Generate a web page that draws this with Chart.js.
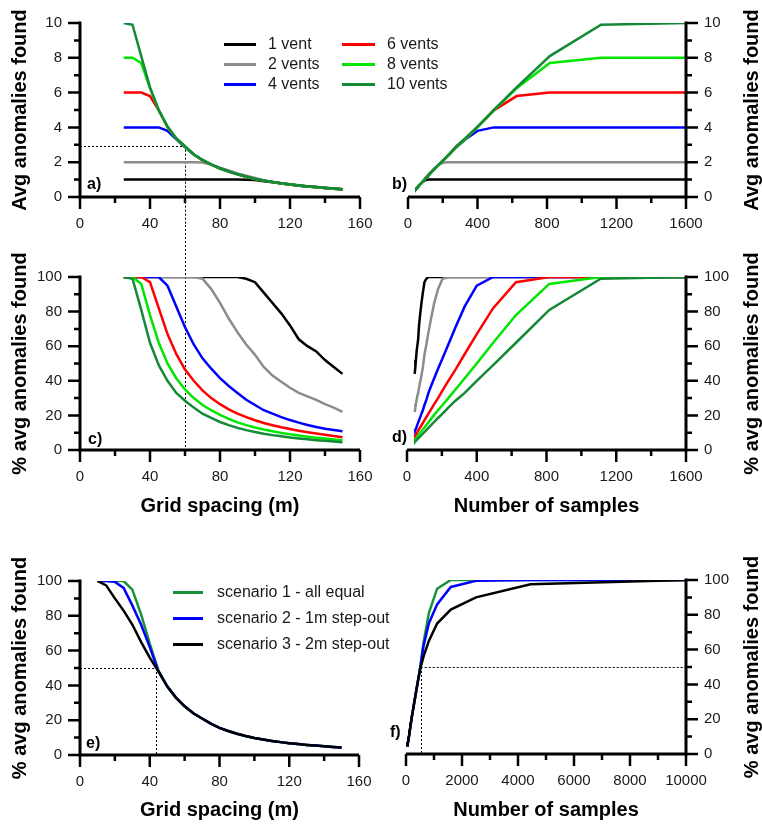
<!DOCTYPE html>
<html>
<head>
<meta charset="utf-8">
<script src="https://cdn.jsdelivr.net/npm/chart.js@4.4.1/dist/chart.umd.min.js"></script>
<style>
  body { margin: 0; background: #fff; }
  #page { position: relative; width: 762px; height: 824px; overflow: hidden; font-family: "Liberation Sans", Arial, sans-serif; }
  canvas { position: absolute; }
  .item { position: absolute; height: 20px; line-height: 20px; font-size: 16px; color: #1a1a1a; white-space: nowrap; }
  .swatch { position: absolute; height: 3px; }
</style>
</head>
<body>
<div id="page">
  <canvas id="chartA"></canvas>
  <canvas id="chartB"></canvas>
  <canvas id="chartC"></canvas>
  <canvas id="chartD"></canvas>
  <canvas id="chartE"></canvas>
  <canvas id="chartF"></canvas>
  <div id="legendVents"></div>
  <div id="legendScen"></div>
</div>
<script>
// Grid spacing (m) and matching number of samples, panels a-d
const spacing = [25, 30, 35, 40, 45, 50, 55, 60, 65, 70, 75, 80, 85, 90, 95, 100, 105, 110, 115, 120, 125, 130, 135, 140, 145, 150];
const samples = [1600, 1111, 816, 625, 494, 400, 331, 278, 237, 204, 178, 156, 138, 123, 111, 100, 91, 83, 76, 69, 64, 59, 55, 51, 48, 44];

const ventLabels = ['1 vent', '2 vents', '4 vents', '6 vents', '8 vents', '10 vents'];

// Avg anomalies found (panels a, b)
const avg1 = [1, 1, 1, 1, 1, 1, 1, 1, 1, 1, 1, 1, 1, 1, 0.99, 0.97, 0.91, 0.85, 0.79, 0.72, 0.65, 0.60, 0.57, 0.52, 0.48, 0.44];
const avg2 = [2, 2, 2, 2, 2, 2, 2, 2, 2, 1.98, 1.86, 1.68, 1.52, 1.36, 1.22, 1.10, 0.97, 0.87, 0.79, 0.72, 0.66, 0.61, 0.57, 0.53, 0.49, 0.44];
const avg4 = [4, 4, 4, 4, 4, 3.8, 3.32, 2.86, 2.44, 2.12, 1.86, 1.64, 1.46, 1.30, 1.16, 1.04, 0.94, 0.86, 0.78, 0.72, 0.66, 0.61, 0.56, 0.52, 0.48, 0.44];
const avg6 = [6, 6, 6, 5.8, 4.98, 4.02, 3.35, 2.88, 2.44, 2.12, 1.86, 1.64, 1.46, 1.30, 1.16, 1.04, 0.94, 0.86, 0.78, 0.72, 0.66, 0.61, 0.56, 0.52, 0.48, 0.44];
const avg8 = [8, 8, 7.7, 6.25, 4.98, 4.02, 3.35, 2.88, 2.44, 2.12, 1.86, 1.64, 1.46, 1.30, 1.16, 1.04, 0.94, 0.86, 0.78, 0.72, 0.66, 0.61, 0.56, 0.52, 0.48, 0.44];
const avg10 = [10, 9.9, 8.1, 6.3, 5.0, 4.05, 3.38, 2.92, 2.46, 2.13, 1.87, 1.65, 1.47, 1.31, 1.17, 1.05, 0.95, 0.87, 0.79, 0.73, 0.67, 0.62, 0.57, 0.53, 0.49, 0.45];

// % avg anomalies found (panels c, d)
const pct1 = [100, 100, 100, 100, 100, 100, 100, 100, 100, 100, 100, 100, 100, 100, 99, 97, 91, 85, 79, 72, 64, 60, 57, 52, 48, 44];
const pct2 = [100, 100, 100, 100, 100, 100, 100, 100, 100, 99, 93, 85, 76, 68, 61, 55, 48, 43, 39.5, 36, 33, 31, 29, 26.5, 24.5, 22];
const pct4 = [100, 100, 100, 100, 100, 95, 83, 71, 61, 53, 47, 41.5, 37, 33, 29, 26, 23, 21, 19, 17.3, 15.8, 14.5, 13.3, 12.3, 11.5, 10.8];
const pct6 = [100, 100, 100, 97, 82, 67, 55.5, 46.5, 40, 34.5, 30, 26.5, 23.5, 21, 19, 17.2, 15.6, 14.3, 13.1, 12.1, 11.1, 10.3, 9.5, 8.8, 8.1, 7.4];
const pct8 = [100, 100, 96, 78, 62, 50, 41.5, 35, 30, 26, 23, 20.3, 18, 16, 14.4, 13, 11.8, 10.8, 9.9, 9.1, 8.4, 7.7, 7.1, 6.6, 6.1, 5.6];
const pct10 = [100, 99, 81, 62, 49, 40, 33, 28.5, 24.5, 21, 18.5, 16.2, 14.4, 12.8, 11.5, 10.4, 9.4, 8.6, 7.9, 7.2, 6.7, 6.2, 5.7, 5.3, 4.9, 4.5];

// Step-out scenarios (panels e, f)
const scenSpacing = [10, 15, 20, 25, 30, 35, 40, 45, 50, 55, 60, 65, 70, 75, 80, 85, 90, 95, 100, 105, 110, 115, 120, 125, 130, 135, 140, 145, 150];
const scenSamples = [10000, 4444, 2500, 1600, 1111, 816, 625, 494, 400, 331, 278, 237, 204, 178, 156, 138, 123, 111, 100, 91, 83, 76, 69, 64, 59, 55, 51, 48, 44];
const scenLabels = ['scenario 1 - all equal', 'scenario 2 - 1m step-out', 'scenario 3 - 2m step-out'];
const scen1 = [100, 100, 100, 100, 95, 81, 64, 48.5, 39.5, 33, 28, 24, 21, 18, 15.6, 13.8, 12.2, 10.9, 9.8, 8.9, 8.1, 7.4, 6.8, 6.3, 5.8, 5.4, 5.0, 4.6, 4.3];
const scen2 = [100, 100, 99.5, 96, 86, 75, 62, 48, 39.5, 33, 28, 24, 21, 18, 15.6, 13.8, 12.2, 10.9, 9.8, 8.9, 8.1, 7.4, 6.8, 6.3, 5.8, 5.4, 5.0, 4.6, 4.3];
const scen3 = [100, 97.5, 90, 83, 75, 65, 56, 48, 39.5, 33, 28, 24, 21, 18, 15.6, 13.8, 12.2, 10.9, 9.8, 8.9, 8.1, 7.4, 6.8, 6.3, 5.8, 5.4, 5.0, 4.6, 4.3];

// dotted reference lines
const refSpacingA = 60, refAvgA = 2.95;
const refSpacingE = 43.5, refPct = 50, refSamplesF = 525;

const ventColors = ['#000000', '#8c8c8c', '#0000ff', '#ff0000', '#00e600', '#138a36'];
const scenColors = ['#16913a', '#0000ff', '#000000'];
const FONT = '"Liberation Sans", Arial, sans-serif';

function points(xs, ys) {
    return xs.map((x, i) => ({ x: x, y: ys[i] }));
}

function lineSets(xs, series, labels, colors) {
    return series.map((ys, i) => ({
        label: labels[i],
        data: points(xs, ys),
        borderColor: colors[i],
        borderWidth: 2.5,
        pointRadius: 0,
        tension: 0,
        order: series.length - 1 - i
    }));
}

// draws the thick axes with long/short ticks, dotted guides, side title and panel tag
const paperAxes = {
    id: 'paperAxes',
    beforeDatasetsDraw(chart, args, opts) {
        const ctx = chart.ctx;
        const xs = chart.scales.x, ys = chart.scales.y;
        ctx.save();
        ctx.strokeStyle = '#000';
        ctx.lineWidth = 1;
        ctx.setLineDash([2, 2]);
        (opts.refs || []).forEach(r => {
            ctx.beginPath();
            if (r.kind === 'h') {
                const py = Math.round(ys.getPixelForValue(r.y)) + 0.5;
                ctx.moveTo(xs.getPixelForValue(r.x0), py);
                ctx.lineTo(xs.getPixelForValue(r.x1), py);
            } else {
                const px = Math.round(xs.getPixelForValue(r.x)) + 0.5;
                const y0 = r.y0 === undefined ? r.fromPx : ys.getPixelForValue(r.y0);
                const y1 = r.y1 === undefined ? r.toPx : ys.getPixelForValue(r.y1);
                ctx.moveTo(px, y0);
                ctx.lineTo(px, y1);
            }
            ctx.stroke();
        });
        ctx.restore();
    },
    afterDraw(chart, args, opts) {
        const ctx = chart.ctx;
        const a = chart.chartArea;
        const xs = chart.scales.x, ys = chart.scales.y;
        const right = ys.options.position === 'right';
        const ax = right ? a.right : a.left;
        const dir = right ? 1 : -1;
        ctx.save();
        ctx.strokeStyle = '#000';
        ctx.setLineDash([]);
        ctx.lineWidth = 3;
        ctx.beginPath();
        ctx.moveTo(a.left - (right ? 0 : 1.5), a.bottom);
        ctx.lineTo(a.right + (right ? 1.5 : 0), a.bottom);
        ctx.moveTo(ax, a.top - 1.5);
        ctx.lineTo(ax, a.bottom + 1.5);
        ctx.stroke();

        ctx.lineWidth = 2.5;
        ctx.beginPath();
        const xt = xs.ticks.map(t => t.value);
        xt.forEach((v, i) => {
            const px = xs.getPixelForValue(v);
            ctx.moveTo(px, a.bottom);
            ctx.lineTo(px, a.bottom + 12);
            if (i < xt.length - 1) {
                const pm = xs.getPixelForValue((v + xt[i + 1]) / 2);
                ctx.moveTo(pm, a.bottom);
                ctx.lineTo(pm, a.bottom + 6);
            }
        });
        const yt = ys.ticks.map(t => t.value);
        yt.forEach((v, i) => {
            const py = ys.getPixelForValue(v);
            ctx.moveTo(ax, py);
            ctx.lineTo(ax + dir * 12, py);
            if (i < yt.length - 1) {
                const pm = ys.getPixelForValue((v + yt[i + 1]) / 2);
                ctx.moveTo(ax, pm);
                ctx.lineTo(ax + dir * 6, pm);
            }
        });
        ctx.stroke();

        ctx.fillStyle = '#000';
        if (opts.sideTitle) {
            ctx.save();
            ctx.translate(ys.right - 10, (a.top + a.bottom) / 2);
            ctx.rotate(-Math.PI / 2);
            ctx.font = 'bold 20px ' + FONT;
            ctx.textAlign = 'center';
            ctx.textBaseline = 'middle';
            ctx.fillText(opts.sideTitle, 0, 0);
            ctx.restore();
        }
        if (opts.tag) {
            ctx.font = 'bold 16px ' + FONT;
            ctx.textAlign = 'left';
            ctx.textBaseline = 'middle';
            ctx.fillText(opts.tag[0], a.left + opts.tag[1], a.bottom + opts.tag[2]);
        }
        ctx.restore();
    }
};

function makePanel(id, p) {
    const canvas = document.getElementById(id);
    const [bx, by, bw, bh] = p.box;
    const [l, t, r, b] = p.area;
    canvas.width = bw;
    canvas.height = bh;
    canvas.style.left = bx + 'px';
    canvas.style.top = by + 'px';

    const yW = p.right ? 76 : 72;
    const xH = p.xTitle ? p.titleY - b + 12 : 38;
    const padding = {
        left: p.right ? l - bx : l - bx - yW,
        right: p.right ? bx + bw - r - yW : bx + bw - r,
        top: t - by,
        bottom: by + bh - b - xH
    };
    const tickFont = { family: FONT, size: 15 };
    const titleFont = { family: FONT, size: 20, weight: 'bold' };
    const plain = value => String(value);

    return new Chart(canvas, {
        type: 'line',
        data: { datasets: p.datasets },
        options: {
            responsive: false,
            animation: false,
            devicePixelRatio: 1,
            layout: { padding: padding },
            plugins: {
                legend: { display: false },
                tooltip: { enabled: false },
                paperAxes: { refs: p.refs, sideTitle: p.right ? p.yTitle : null, tag: p.tag }
            },
            scales: {
                x: {
                    type: 'linear', min: 0, max: p.xMax,
                    grid: { display: true, drawOnChartArea: false, drawTicks: true, tickLength: 12, color: 'rgba(0,0,0,0)' },
                    border: { display: false },
                    ticks: { stepSize: p.xStep, autoSkip: false, maxRotation: 0, padding: 6, color: '#1a1a1a', font: tickFont, callback: plain },
                    title: { display: !!p.xTitle, text: p.xTitle || '', padding: 0, color: '#000', font: titleFont },
                    afterFit: s => { s.height = xH; }
                },
                y: {
                    type: 'linear', min: 0, max: p.yMax,
                    position: p.right ? 'right' : 'left',
                    grid: { display: true, drawOnChartArea: false, drawTicks: true, tickLength: 12, color: 'rgba(0,0,0,0)' },
                    border: { display: false },
                    ticks: { stepSize: p.yStep, autoSkip: false, padding: 6, color: '#1a1a1a', font: tickFont, callback: plain },
                    title: { display: !p.right, text: p.yTitle, padding: 0, color: '#000', font: titleFont },
                    afterFit: s => { s.width = yW; }
                }
            }
        },
        plugins: [paperAxes]
    });
}

const avgSeries = [avg1, avg2, avg4, avg6, avg8, avg10];
const pctSeries = [pct1, pct2, pct4, pct6, pct8, pct10];
const scenSeries = [scen1, scen2, scen3];

makePanel('chartA', {
    box: [0, 0, 380, 240], area: [80, 23, 360, 197],
    xMax: 160, xStep: 40, yMax: 10, yStep: 2,
    yTitle: 'Avg anomalies found', tag: ['a)', 7, -12],
    datasets: lineSets(spacing, avgSeries, ventLabels, ventColors),
    refs: [
        { kind: 'h', y: refAvgA, x0: 0, x1: refSpacingA },
        { kind: 'v', x: refSpacingA, y0: refAvgA, toPx: 225 }
    ]
});
makePanel('chartB', {
    box: [380, 0, 382, 240], area: [408, 23, 686, 197], right: true,
    xMax: 1600, xStep: 400, yMax: 10, yStep: 2,
    yTitle: 'Avg anomalies found', tag: ['b)', -16, -12],
    datasets: lineSets(samples, avgSeries, ventLabels, ventColors)
});
makePanel('chartC', {
    box: [0, 225, 380, 300], area: [80, 277, 360, 450],
    xMax: 160, xStep: 40, yMax: 100, yStep: 20,
    xTitle: 'Grid spacing (m)', titleY: 506,
    yTitle: '% avg anomalies found', tag: ['c)', 8, -10],
    datasets: lineSets(spacing, pctSeries, ventLabels, ventColors),
    refs: [{ kind: 'v', x: refSpacingA, fromPx: 0, y1: 0 }]
});
makePanel('chartD', {
    box: [380, 225, 382, 300], area: [407, 277, 686, 450], right: true,
    xMax: 1600, xStep: 400, yMax: 100, yStep: 20,
    xTitle: 'Number of samples', titleY: 506,
    yTitle: '% avg anomalies found', tag: ['d)', -15, -12.5],
    datasets: lineSets(samples, pctSeries, ventLabels, ventColors)
});
makePanel('chartE', {
    box: [0, 525, 380, 299], area: [80, 581, 359, 755],
    xMax: 160, xStep: 40, yMax: 100, yStep: 20,
    xTitle: 'Grid spacing (m)', titleY: 810,
    yTitle: '% avg anomalies found', tag: ['e)', 6, -11],
    datasets: lineSets(scenSpacing, scenSeries, scenLabels, scenColors),
    refs: [
        { kind: 'h', y: refPct, x0: 0, x1: refSpacingE },
        { kind: 'v', x: refSpacingE, y0: refPct, y1: 0 }
    ]
});
makePanel('chartF', {
    box: [380, 525, 382, 299], area: [406, 580, 686, 754], right: true,
    xMax: 10000, xStep: 2000, yMax: 100, yStep: 20,
    xTitle: 'Number of samples', titleY: 810,
    yTitle: '% avg anomalies found', tag: ['f)', -16, -21],
    datasets: lineSets(scenSamples, scenSeries, scenLabels, scenColors),
    refs: [
        { kind: 'h', y: refPct, x0: refSamplesF, x1: 10000 },
        { kind: 'v', x: refSamplesF, y0: refPct, y1: 0 }
    ]
});

// legends as real text
function buildLegend(hostId, labels, colors, place) {
    const host = document.getElementById(hostId);
    labels.forEach((label, i) => {
        const pos = place(i);
        const item = document.createElement('div');
        item.className = 'item';
        item.style.left = pos.lineX + 'px';
        item.style.top = (pos.cy - 10) + 'px';
        item.style.paddingLeft = (pos.textX - pos.lineX) + 'px';
        item.textContent = label;
        const sw = document.createElement('span');
        sw.className = 'swatch';
        sw.style.left = '0px';
        sw.style.top = '8.5px';
        sw.style.width = pos.lineW + 'px';
        sw.style.background = colors[i];
        item.appendChild(sw);
        host.appendChild(item);
    });
}

buildLegend('legendVents', ventLabels, ventColors, i => {
    const col = Math.floor(i / 3), row = i % 3;
    return col === 0
        ? { lineX: 224, lineW: 32, textX: 268, cy: 44 + row * 20 }
        : { lineX: 342, lineW: 33, textX: 387, cy: 44 + row * 20 };
});
buildLegend('legendScen', scenLabels, scenColors, i => ({ lineX: 173, lineW: 30, textX: 217, cy: 592 + i * 26 }));
</script>
</body>
</html>
